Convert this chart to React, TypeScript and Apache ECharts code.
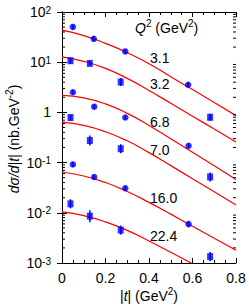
import React, { useEffect, useRef } from "react";
import * as echarts from "echarts";

// |t| positions (GeV^2) and dσ/d|t| values (nb/GeV^2)
const q31T = [0.05, 0.146, 0.291, 0.58];
const q31V = [50.4, 29.2, 16.4, 3.56];
const q31E = [0.05, 0.05, 0.05, 0.05];

const q32T = [0.039, 0.128, 0.27, 0.681];
const q32V = [10.7, 9.46, 4.03, 0.8];
const q32E = [0.06, 0.05, 0.08, 0.07];

const q68T = [0.05, 0.148, 0.291, 0.582];
const q68V = [2.52, 1.3, 0.79, 0.216];
const q68E = [0.05, 0.05, 0.05, 0.05];

const q70T = [0.039, 0.128, 0.27, 0.681];
const q70V = [0.79, 0.275, 0.189, 0.0518];
const q70E = [0.06, 0.1, 0.09, 0.09];

const q160T = [0.05, 0.148, 0.291, 0.582];
const q160V = [0.092, 0.0518, 0.0308, 0.00594];
const q160E = [0.05, 0.05, 0.05, 0.06];

const q224T = [0.039, 0.128, 0.27, 0.681];
const q224V = [0.0151, 0.00857, 0.00452, 0.00134];
const q224E = [0.09, 0.12, 0.09, 0.09];

// model curves (red lines), read at |t| = 0, 0.1, ..., 0.8
const curveT = [0, 0.1, 0.2, 0.3, 0.4, 0.5, 0.6, 0.7, 0.8];
const curve31 = [43.4, 33.9, 23.7, 15.5, 9.33, 5.13, 2.85, 1.57, 0.863];
const curve32 = [12.8, 10.4, 7.55, 4.76, 2.74, 1.52, 0.841, 0.465, 0.256];
const curve68 = [2.19, 1.95, 1.48, 0.957, 0.551, 0.299, 0.161, 0.0863, 0.0463];
const curve70 = [0.638, 0.55, 0.412, 0.272, 0.158, 0.0871, 0.0479, 0.0263, 0.0143];
const curve160 = [0.065, 0.0541, 0.0401, 0.0265, 0.01614, 0.0094, 0.0054, 0.00311, 0.00179];
const curve224T = [0, 0.1, 0.2, 0.3, 0.4, 0.5, 0.6];
const curve224 = [0.01045, 0.00879, 0.00659, 0.00446, 0.00275, 0.00164, 0.000964];

const qLabels = ["3.1", "3.2", "6.8", "7.0", "16.0", "22.4"];

const FONT = "Liberation Sans, Arial, Helvetica, sans-serif";
const BLUE = "#0000ff";
const RED = "#ff0000";

const pts = (t: number[], v: number[]) => t.map((x, i) => [x, v[i]]);
const errs = (t: number[], v: number[], e: number[]) =>
  t.map((x, i) => [x, v[i] / Math.pow(10, e[i]), v[i] * Math.pow(10, e[i])]);

const minorVals: number[] = [];
for (let e = -3; e < 2; e++) for (let d = 2; d <= 9; d++) minorVals.push(d * Math.pow(10, e));

export default function App() {
  const ref = useRef<HTMLDivElement>(null);
  useEffect(() => {
    if (!ref.current) return;
    const chart = echarts.init(ref.current, null, { renderer: "svg" });

    const dataSets = [
      { t: q31T, v: q31V, e: q31E, sym: "circle" },
      { t: q32T, v: q32V, e: q32E, sym: "rect" },
      { t: q68T, v: q68V, e: q68E, sym: "circle" },
      { t: q70T, v: q70V, e: q70E, sym: "rect" },
      { t: q160T, v: q160V, e: q160E, sym: "circle" },
      { t: q224T, v: q224V, e: q224E, sym: "rect" },
    ];
    const curves = [
      { t: curveT, v: curve31 },
      { t: curveT, v: curve32 },
      { t: curveT, v: curve68 },
      { t: curveT, v: curve70 },
      { t: curveT, v: curve160 },
      { t: curve224T, v: curve224 },
    ];

    const series: any[] = [];
    curves.forEach((c) => {
      series.push({
        type: "line",
        data: pts(c.t, c.v),
        smooth: 0.5,
        symbol: "none",
        lineStyle: { color: RED, width: 1.2 },
        clip: true,
        z: 2,
      });
    });
    dataSets.forEach((d) => {
      series.push({
        type: "custom",
        data: errs(d.t, d.v, d.e),
        renderItem: (params: any, api: any) => {
          const p1 = api.coord([api.value(0), api.value(1)]);
          const p2 = api.coord([api.value(0), api.value(2)]);
          return {
            type: "line",
            shape: { x1: p1[0], y1: p1[1], x2: p2[0], y2: p2[1] },
            style: { stroke: BLUE, lineWidth: 1.5 },
          };
        },
        z: 3,
      });
      series.push({
        type: "scatter",
        data: pts(d.t, d.v),
        symbol: d.sym,
        symbolSize: d.sym === "rect" ? [6, 7] : 6.5,
        itemStyle: { color: BLUE },
        z: 4,
      });
    });
    // minor ticks of the log axis (left and right)
    series.push({
      type: "custom",
      data: minorVals.map((v) => [0, v]),
      renderItem: (params: any, api: any) => {
        const cs = params.coordSys;
        const y = api.coord([0, api.value(1)])[1];
        return {
          type: "group",
          children: [
            { type: "line", shape: { x1: cs.x, y1: y, x2: cs.x + 3, y2: y }, style: { stroke: "#000", lineWidth: 1 } },
            { type: "line", shape: { x1: cs.x + cs.width - 3, y1: y, x2: cs.x + cs.width, y2: y }, style: { stroke: "#000", lineWidth: 1 } },
          ],
        };
      },
      silent: true,
      z: 5,
    });

    const richStyles = {
      i: { fontFamily: FONT, fontSize: 14, fontStyle: "italic", verticalAlign: "middle" },
      n: { fontFamily: FONT, fontSize: 14, verticalAlign: "middle" },
      s: { fontFamily: FONT, fontSize: 10, verticalAlign: "top", padding: [0, 0, 10, 0] },
    };
    const labelY = [58, 84, 121.5, 149.5, 198, 236];
    const graphics: any[] = qLabels.map((s, i) => ({
      type: "text",
      x: 150,
      y: labelY[i],
      style: { text: s, fontFamily: FONT, fontSize: 14, fill: "#000", align: "left", verticalAlign: "middle" },
    }));
    graphics.push({
      type: "text",
      x: 135,
      y: 28,
      style: {
        text: "{i|Q}{s|2}{n| (GeV}{s|2}{n|)}",
        fontFamily: FONT,
        fontSize: 14,
        fill: "#000",
        align: "left",
        verticalAlign: "middle",
        rich: richStyles,
      },
    });
    graphics.push({
      type: "text",
      x: 149,
      y: 296,
      style: {
        text: "{n||}{i|t}{n|| (GeV}{s|2}{n|)}",
        fontFamily: FONT,
        fontSize: 14,
        fill: "#000",
        align: "center",
        verticalAlign: "middle",
        rich: richStyles,
      },
    });
    graphics.push({
      type: "text",
      x: 14,
      y: 139,
      rotation: Math.PI / 2,
      style: {
        text: "{i|dσ/d|t|}{n| (nb.GeV}{s|-2}{n|)}",
        fontFamily: FONT,
        fontSize: 14,
        fill: "#000",
        align: "center",
        verticalAlign: "middle",
        rich: richStyles,
      },
    });

    const xBase = {
      type: "value",
      min: 0,
      max: 0.8,
      interval: 0.2,
      axisLine: { show: true, lineStyle: { color: "#000", width: 1 } },
      axisTick: { show: true, inside: true, length: 5, lineStyle: { color: "#000" } },
      minorTick: { show: true, splitNumber: 4, length: 3, lineStyle: { color: "#000" } },
      splitLine: { show: false },
    };
    const yBase = {
      type: "log",
      logBase: 10,
      min: 0.001,
      max: 100,
      axisLine: { show: true, lineStyle: { color: "#000", width: 1 } },
      axisTick: { show: true, inside: true, length: 5, lineStyle: { color: "#000" } },
      splitLine: { show: false },
    };

    chart.setOption({
      animation: false,
      backgroundColor: "#fff",
      grid: { left: 62, right: 13, top: 12, bottom: 44, containLabel: false },
      xAxis: [
        {
          ...xBase,
          position: "bottom",
          axisLabel: {
            show: true,
            color: "#000",
            fontFamily: FONT,
            fontSize: 14,
            margin: 8,
            formatter: (v: number) => (v === 0 ? "0" : v.toFixed(1)),
          },
        },
        { ...xBase, position: "top", axisLabel: { show: false } },
      ],
      yAxis: [
        {
          ...yBase,
          position: "left",
          axisLabel: {
            show: true,
            margin: 11,
            color: "#000",
            fontFamily: FONT,
            formatter: (v: number) => {
              const e = Math.round(Math.log10(v));
              return e === 0 ? "{b|1}" : `{b|10}{s|${e}}`;
            },
            rich: {
              b: { fontFamily: FONT, fontSize: 14, color: "#000", verticalAlign: "middle", lineHeight: 14 },
              s: { fontFamily: FONT, fontSize: 10, color: "#000", verticalAlign: "top", lineHeight: 10, padding: [0, 0, 10, 0] },
            },
          },
        },
        { ...yBase, position: "right", axisLabel: { show: false } },
      ],
      series,
      graphic: graphics,
    });
    return () => chart.dispose();
  }, []);
  return (
    <div
      ref={ref}
      style={{ position: "absolute", left: 0, top: 0, width: 249, height: 307 }}
    />
  );
}
